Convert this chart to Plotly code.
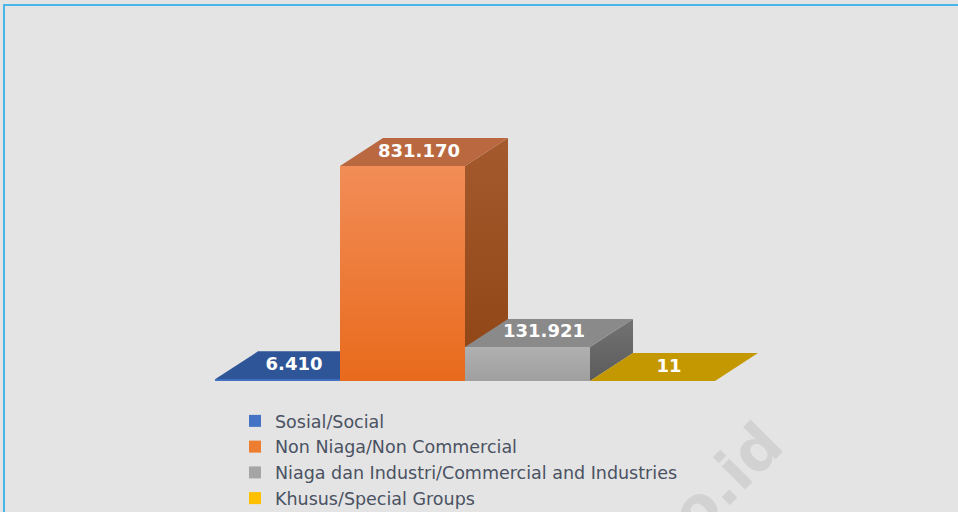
import plotly.graph_objects as go

# ---- data ----
categories = ["Sosial/Social", "Non Niaga/Non Commercial",
              "Niaga dan Industri/Commercial and Industries", "Khusus/Special Groups"]
values = [6410, 831170, 131921, 11]

# ---- style ----
legend_colors = ["#4472c4", "#ed7d31", "#a5a5a5", "#ffc000"]
front_bot = ["#3f6cc0", "#e86a1c", "#9f9f9f", "#e0b000"]
front_top = ["#4a7bd0", "#f28d57", "#b0b0b0", "#f0c020"]
top_colors = ["#2e5597", "#b9683f", "#8a8a8a", "#c49800"]
side_bot = ["#243f73", "#8f4414", "#5c5c5c", "#8a6c00"]
side_top = ["#2e4f8a", "#a55a2e", "#727272", "#a08000"]

BG = "#e4e4e4"
DX = 0.344          # depth offset in category units
DY = 108245         # depth offset in value units
LABEL_DX = -0.04    # small label nudge

fig = go.Figure()

# legend / base bars
for i, (c, v) in enumerate(zip(categories, values)):
    fig.add_trace(go.Bar(x=[i], y=[v], width=1, name=c,
                         marker=dict(color=legend_colors[i], line=dict(width=0)),
                         hoverinfo="skip", showlegend=True))

# 3D faces
for i, v in enumerate(values):
    x0, x1 = i - 0.5, i + 0.5
    # side face
    fig.add_trace(go.Scatter(
        x=[x1, x1 + DX, x1 + DX, x1, x1], y=[0, DY, v + DY, v, 0],
        mode="lines", fill="toself", line=dict(width=0),
        fillgradient=dict(type="vertical", colorscale=[[0, side_bot[i]], [1, side_top[i]]]),
        showlegend=False, hoverinfo="skip"))
    # front face
    fig.add_trace(go.Scatter(
        x=[x0, x1, x1, x0, x0], y=[0, 0, v, v, 0],
        mode="lines", fill="toself", line=dict(width=0),
        fillgradient=dict(type="vertical", colorscale=[[0, front_bot[i]], [1, front_top[i]]]),
        showlegend=False, hoverinfo="skip"))
    # top face
    fig.add_trace(go.Scatter(
        x=[x0, x1, x1 + DX, x0 + DX, x0], y=[v, v, v + DY, v + DY, v],
        mode="lines", fill="toself", line=dict(width=0), fillcolor=top_colors[i],
        showlegend=False, hoverinfo="skip"))

# value labels
labels = [f"{v:,}".replace(",", ".") for v in values]
fig.add_trace(go.Scatter(
    x=[i + DX / 2 + LABEL_DX for i in range(len(values))],
    y=[v + DY / 2 for v in values],
    mode="text", text=labels,
    textfont=dict(family="DejaVu Sans", size=18, color="white", weight="bold"),
    showlegend=False, hoverinfo="skip"))

W, H = 958, 512
fig.update_layout(
    width=W, height=H,
    margin=dict(l=0, r=0, t=0, b=0, autoexpand=False),
    paper_bgcolor=BG, plot_bgcolor=BG,
    barmode="overlay",
    xaxis=dict(range=[-2.22, 5.444], visible=False, fixedrange=True),
    yaxis=dict(range=[-506430, 1472900], visible=False, fixedrange=True),
    legend=dict(x=235 / W, y=1 - 403 / H, xanchor="left", yanchor="top",
                bgcolor="rgba(0,0,0,0)",
                font=dict(family="DejaVu Sans", size=17.5, color="#4a5262"),
                traceorder="normal"),
    shapes=[dict(type="rect", xref="paper", yref="paper",
                 x0=4 / W, x1=1.05, y0=-0.05, y1=1 - 5 / H,
                 line=dict(color="#4ab5e8", width=2), fillcolor="rgba(0,0,0,0)")],
    annotations=[dict(text="bps.go.id", xref="paper", yref="paper",
                      x=660 / W, y=1 - 545 / H, xanchor="center", yanchor="middle",
                      showarrow=False, textangle=-45,
                      font=dict(family="DejaVu Sans", size=60, color="#d2d2d2", weight="bold"))],
    showlegend=True,
)

fig.write_html("out.html", config={"displayModeBar": False},
               post_script="document.body.style.margin='0';")
